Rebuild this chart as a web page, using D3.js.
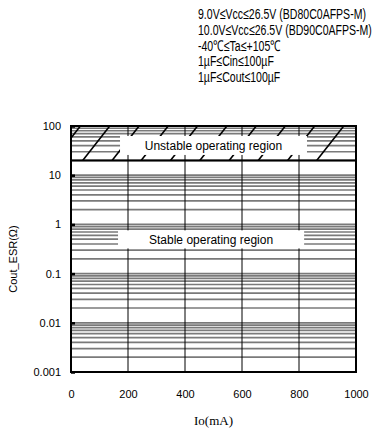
<!DOCTYPE html>
<html>
<head>
<meta charset="utf-8">
<script src="https://cdn.jsdelivr.net/npm/d3@7"></script>
<style>
  body { margin: 0; background: #fff; }
  svg { display: block; }
  text { font-family: Arial, "Liberation Sans", sans-serif; fill: #000; }
</style>
</head>
<body>
<div class="chart"></div>
<script>
// Conditions printed above the chart.
const conditionLines = [
  "9.0V≤Vcc≤26.5V (BD80C0AFPS-M)",
  "10.0V≤Vcc≤26.5V (BD90C0AFPS-M)",
  "-40℃≤Ta≤+105℃",
  "1µF≤Cin≤100µF",
  "1µF≤Cout≤100µF",
];

// Axes.
const ioTicks = [0, 200, 400, 600, 800, 1000];
const esrTicks = [0.001, 0.01, 0.1, 1, 10, 100];
const ioGrid = [200, 400, 600, 800];

// Stability boundary (ohm) and the hatch strokes above it (mA at the boundary).
const boundaryESR = 20;
const hatchStarts = [-62, 41, 144, 246, 349, 452, 555, 657, 760, 862];
const hatchRun = 95;

const regionLabels = ["Unstable operating region", "Stable operating region"];

// Minor log grid lines, 2..10 per decade.
const esrGrid = [];
esrTicks.slice(0, -1).forEach((d) => {
  for (let k = 1; k <= 9; k++) esrGrid.push(d * k);
});
esrGrid.push(100);

const W = 374, H = 434;
const margin = { top: 126, right: 18, bottom: 62, left: 71 };
const width = W - margin.left - margin.right;
const height = H - margin.top - margin.bottom;

const svg = d3.select(".chart").append("svg").attr("width", W).attr("height", H);

// Condition text (condensed to fit the right side, as in the original).
const cond = svg.append("g");
cond.selectAll("text")
  .data(conditionLines)
  .join("text")
  .attr("x", 0)
  .attr("y", (d, i) => 19 + i * 15.8)
  .attr("font-size", 15)
  .text((d) => d);
const widest = d3.max(cond.selectAll("text").nodes(), (n) => n.getComputedTextLength());
cond.attr("transform", `translate(198,0) scale(${174 / widest},1)`);

const x = d3.scaleLinear().domain([0, 1000]).range([0, width]);
const y = d3.scaleLog().domain([0.001, 100]).range([height, 0]);

const g = svg.append("g").attr("transform", `translate(${margin.left},${margin.top})`);

g.append("clipPath").attr("id", "plot-clip")
  .append("rect").attr("width", width).attr("height", height);

// Horizontal gray grid.
g.append("g")
  .selectAll("line")
  .data(esrGrid)
  .join("line")
  .attr("x1", 0).attr("x2", width)
  .attr("y1", (d) => y(d)).attr("y2", (d) => y(d))
  .attr("stroke", "#7a7a7a")
  .attr("stroke-width", 1.7);

// Vertical black grid.
g.append("g")
  .selectAll("line")
  .data(ioGrid)
  .join("line")
  .attr("x1", (d) => x(d)).attr("x2", (d) => x(d))
  .attr("y1", 0).attr("y2", height)
  .attr("stroke", "#000")
  .attr("stroke-width", 1);

// Hatching of the unstable region.
g.append("g")
  .attr("clip-path", "url(#plot-clip)")
  .selectAll("line")
  .data(hatchStarts)
  .join("line")
  .attr("x1", (d) => x(d)).attr("y1", y(boundaryESR))
  .attr("x2", (d) => x(d + hatchRun)).attr("y2", y(100))
  .attr("stroke", "#000")
  .attr("stroke-width", 1.6);

// Boundary line.
g.append("line")
  .attr("x1", 0).attr("x2", width)
  .attr("y1", y(boundaryESR)).attr("y2", y(boundaryESR))
  .attr("stroke", "#000")
  .attr("stroke-width", 2);

// Region labels on white boxes.
const boxes = [
  { io: [172, 828], esr: [25.8, 62.6] },
  { io: [165, 818], esr: [0.325, 0.755] },
];
const labels = g.append("g").selectAll("g").data(regionLabels).join("g");
labels.append("rect")
  .attr("x", (d, i) => x(boxes[i].io[0]))
  .attr("y", (d, i) => y(boxes[i].esr[1]))
  .attr("width", (d, i) => x(boxes[i].io[1]) - x(boxes[i].io[0]))
  .attr("height", (d, i) => y(boxes[i].esr[0]) - y(boxes[i].esr[1]))
  .attr("fill", "#fff");
labels.append("text")
  .attr("x", (d, i) => (x(boxes[i].io[0]) + x(boxes[i].io[1])) / 2)
  .attr("y", (d, i) => (y(boxes[i].esr[0]) + y(boxes[i].esr[1])) / 2)
  .attr("dy", "0.35em")
  .attr("text-anchor", "middle")
  .attr("font-size", 12)
  .text((d) => d);

// Frame.
g.append("rect")
  .attr("width", width).attr("height", height)
  .attr("fill", "none")
  .attr("stroke", "#000")
  .attr("stroke-width", 2);

// Axes.
const yAxis = d3.axisLeft(y).tickValues(esrTicks).tickFormat(d3.format("~g")).tickSize(-4).tickPadding(10);
const yAxisDraw = g.append("g").call(yAxis);
yAxisDraw.select(".domain").remove();
yAxisDraw.selectAll("line").attr("stroke-width", 2.5);
yAxisDraw.selectAll("text").attr("font-size", 11).attr("font-family", "Arial, 'Liberation Sans', sans-serif");

const xAxis = d3.axisBottom(x).tickValues(ioTicks).tickFormat(d3.format("d")).tickSize(0).tickPadding(18);
const xAxisDraw = g.append("g").attr("transform", `translate(0,${height})`).call(xAxis);
xAxisDraw.select(".domain").remove();
xAxisDraw.selectAll("text").attr("font-size", 11).attr("font-family", "Arial, 'Liberation Sans', sans-serif");

// Axis titles.
svg.append("text")
  .attr("x", margin.left + width / 2)
  .attr("y", 425)
  .attr("text-anchor", "middle")
  .attr("font-size", 13)
  .style("font-family", "'Liberation Serif', 'DejaVu Serif', serif")
  .text("Io(mA)");

svg.append("text")
  .attr("transform", `translate(17, ${margin.top + height / 2 + 10}) rotate(-90)`)
  .attr("text-anchor", "middle")
  .attr("font-size", 11)
  .text("Cout_ESR(Ω)");
</script>
</body>
</html>
